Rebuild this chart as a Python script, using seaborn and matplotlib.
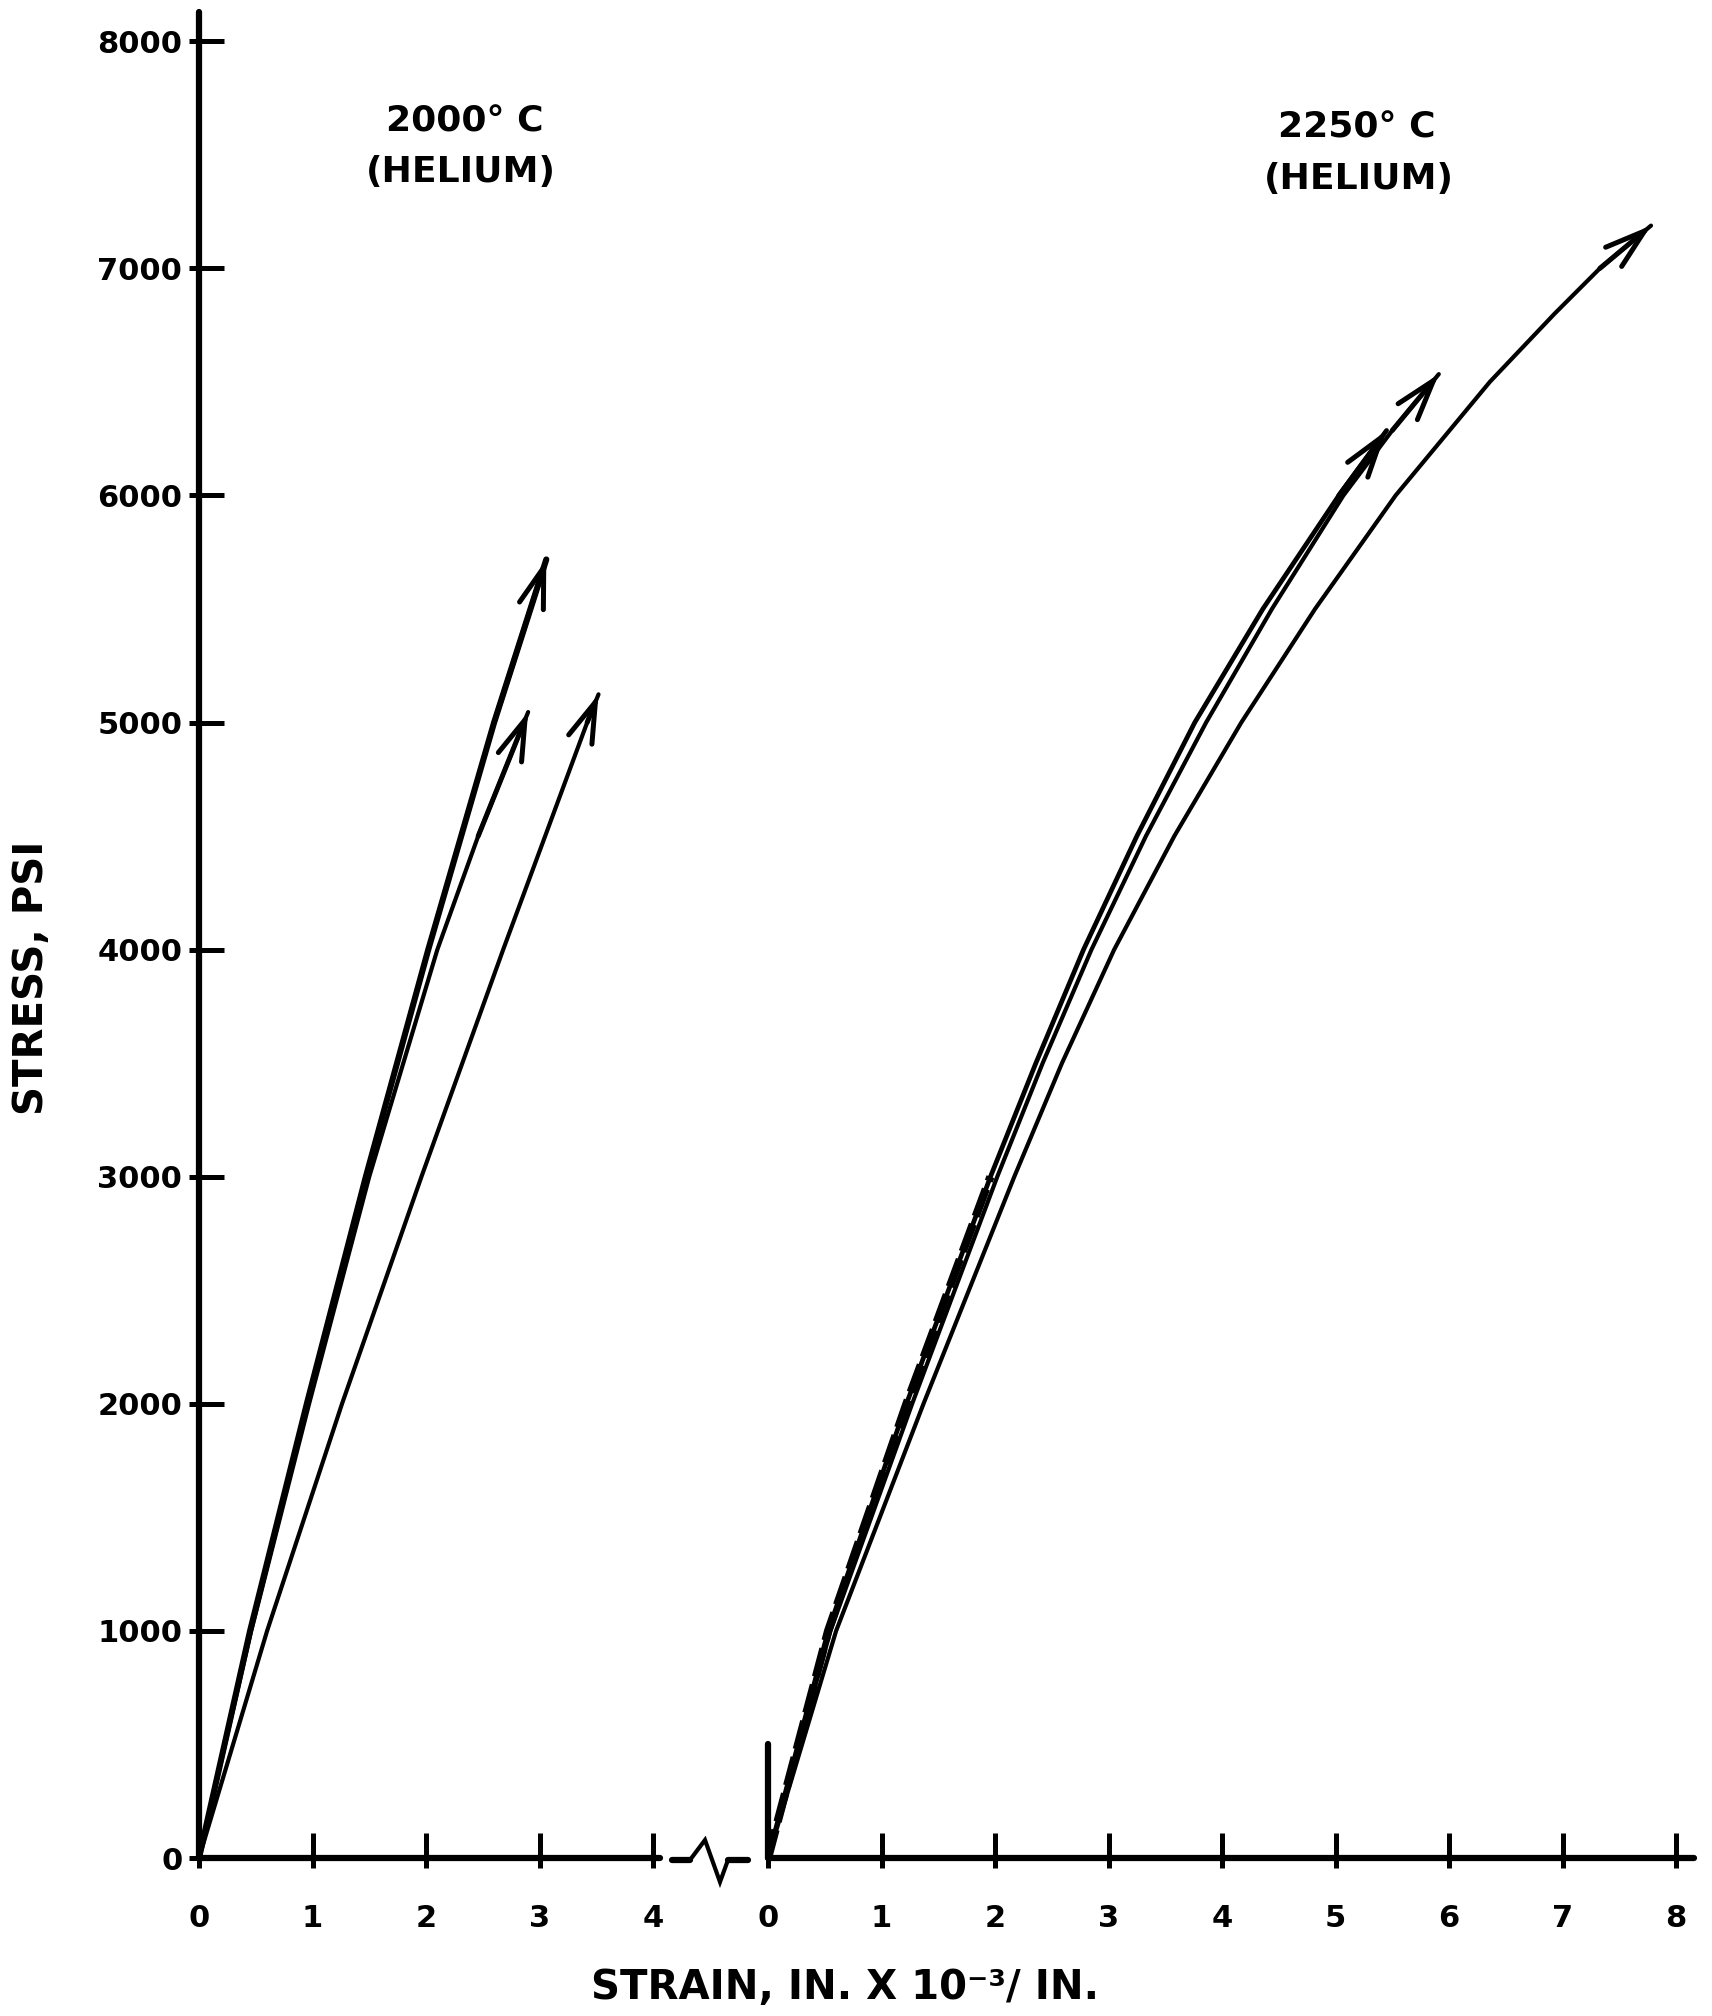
import matplotlib
matplotlib.use("Agg")
import matplotlib.pyplot as plt
import seaborn as sns
import pandas as pd
from matplotlib.lines import Line2D
from matplotlib.ticker import FixedLocator

# ---------------- data (strain in 10^-3 in/in, stress in psi) ----------------
# 2000 C (helium)
strain_2000_a = [0, 0.45, 0.95, 1.47, 2.02, 2.60, 3.06]
stress_2000_a = [0, 1000, 2000, 3000, 4000, 5000, 5718]
strain_2000_b = [0, 0.46, 0.97, 1.50, 2.10, 2.46, 2.90]
stress_2000_b = [0, 1000, 2000, 3000, 4000, 4500, 5046]
strain_2000_c = [0, 0.60, 1.26, 1.96, 2.68, 3.42, 3.52]
stress_2000_c = [0, 1000, 2000, 3000, 4000, 5000, 5124]

# 2250 C (helium)
strain_2250_a = [0, 0.53, 1.22, 1.96, 2.36, 2.78, 3.25, 3.76, 4.36, 5.03, 5.45]
stress_2250_a = [0, 1000, 2000, 3000, 3500, 4000, 4500, 5000, 5500, 6000, 6286]
strain_2250_b = [0, 0.55, 1.27, 2.02, 2.42, 2.85, 3.33, 3.86, 4.44, 5.07, 5.50, 5.91]
stress_2250_b = [0, 1000, 2000, 3000, 3500, 4000, 4500, 5000, 5500, 6000, 6286, 6534]
strain_2250_c = [0, 0.60, 1.37, 2.17, 2.59, 3.05, 3.58, 4.17, 4.82, 5.53, 6.36, 6.93, 7.33, 7.78]
stress_2250_c = [0, 1000, 2000, 3000, 3500, 4000, 4500, 5000, 5500, 6000, 6500, 6800, 7000, 7188]

left_xticks = [0, 1, 2, 3, 4]
right_xticks = [0, 1, 2, 3, 4, 5, 6, 7, 8]
yticks = [0, 1000, 2000, 3000, 4000, 5000, 6000, 7000, 8000]

title_left = ["2000° C", "(HELIUM)"]
title_right = ["2250° C", "(HELIUM)"]
ylabel = "STRESS, PSI"
xlabel = "STRAIN, IN. X 10⁻³/ IN."

# ---------------- style ----------------
sns.set_theme(style="white")
plt.rcParams["font.family"] = ["DejaVu Sans"]
plt.rcParams["font.weight"] = "bold"

W, H = 1712, 2016
fig = plt.figure(figsize=(W / 100, H / 100), dpi=100)
fig.patch.set_facecolor("white")

PX_X = 113.5      # pixels per strain unit
PX_Y = 0.2271     # pixels per psi
Y0 = 1858
YMAX = 8130
bottom = 1 - Y0 / H
height = YMAX * PX_Y / H

ax1 = fig.add_axes([199 / W, bottom, 4.1 * PX_X / W, height])
ax2 = fig.add_axes([768 / W, bottom, 8.2 * PX_X / W, height])

for ax in (ax1, ax2):
    ax.set_facecolor("white")
    ax.set_ylim(0, YMAX)
    for s in ("top", "right"):
        ax.spines[s].set_visible(False)
    for s in ("left", "bottom"):
        ax.spines[s].set_color("black")
        ax.spines[s].set_linewidth(4.5)
        ax.spines[s].set_capstyle("round")

ax1.set_xlim(0, 4.1)
ax2.set_xlim(0, 8.2)
ax1.spines["bottom"].set_bounds(0, 4.06)
ax2.spines["bottom"].set_bounds(0, 8.16)
ax2.spines["left"].set_bounds(0, 500)


def curve(ax, xs, ys, lw):
    df = pd.DataFrame({"strain": xs, "stress": ys})
    sns.lineplot(data=df, x="strain", y="stress", ax=ax, color="black",
                 linewidth=lw, sort=False, estimator=None)
    ax.annotate("", xy=(xs[-1], ys[-1]), xytext=(xs[-2], ys[-2]),
                arrowprops=dict(arrowstyle="->,head_length=1.45,head_width=0.45",
                                lw=3.6, color="black", shrinkA=0, shrinkB=0,
                                mutation_scale=20, joinstyle="miter"))


curve(ax1, strain_2000_a, stress_2000_a, 4.4)
curve(ax1, strain_2000_b, stress_2000_b, 3.0)
curve(ax1, strain_2000_c, stress_2000_c, 3.0)

curve(ax2, strain_2250_a, stress_2250_a, 3.4)
curve(ax2, strain_2250_b, stress_2250_b, 3.0)
curve(ax2, strain_2250_c, stress_2250_c, 3.0)
# heavy dashed trace near the origin of the 2250 C group
sns.lineplot(x=strain_2250_a[:4], y=stress_2250_a[:4], ax=ax2, color="black",
             linewidth=6, sort=False, estimator=None,
             linestyle=(0, (3.5, 1.0)))

# ---------------- ticks ----------------
ax1.set_xticks(left_xticks)
ax1.set_xticklabels([str(t) for t in left_xticks])
ax1.set_yticks(yticks)
ax1.set_yticklabels([str(t) for t in yticks])
ax2.set_xticks(right_xticks)
ax2.set_xticklabels([str(t) for t in right_xticks])
ax2.set_yticks([])

ax1.xaxis.set_minor_locator(FixedLocator(left_xticks))
ax1.yaxis.set_minor_locator(FixedLocator(yticks))
ax2.xaxis.set_minor_locator(FixedLocator(right_xticks))
for axis in (ax1.xaxis, ax1.yaxis, ax2.xaxis):
    axis.remove_overlapping_locs = False

for ax in (ax1, ax2):
    ax.tick_params(axis="x", which="major", direction="in", length=18, width=3.6,
                   color="black", pad=33, labelsize=22, labelcolor="black",
                   bottom=True)
    ax.tick_params(axis="x", which="minor", direction="out", length=7, width=3.6,
                   color="black", bottom=True)
ax1.tick_params(axis="y", which="major", direction="in", length=18, width=3.6,
                color="black", pad=12, labelsize=22, labelcolor="black", left=True)
ax1.tick_params(axis="y", which="minor", direction="out", length=7, width=3.6,
                color="black", left=True)
ax2.tick_params(axis="y", which="both", left=False, labelleft=False)
for ax in (ax1, ax2):
    for lab in ax.get_xticklabels() + ax.get_yticklabels():
        lab.set_fontweight("bold")
    ax.set_xlabel("")
    ax.set_ylabel("")

# ---------------- axis break symbol ----------------
bx = [672, 690, 705, 720, 728, 748]
by = [1860, 1860, 1840, 1882, 1860, 1860]
fig.add_artist(Line2D([x / W for x in bx[:2]], [1 - y / H for y in by[:2]],
                      transform=fig.transFigure, color="black", lw=4.5,
                      solid_capstyle="round"))
fig.add_artist(Line2D([x / W for x in bx[1:5]], [1 - y / H for y in by[1:5]],
                      transform=fig.transFigure, color="black", lw=3,
                      solid_joinstyle="miter"))
fig.add_artist(Line2D([x / W for x in bx[4:]], [1 - y / H for y in by[4:]],
                      transform=fig.transFigure, color="black", lw=4.5,
                      solid_capstyle="round"))

# ---------------- texts ----------------
fig.text(465 / W, 1 - 122 / H, title_left[0], ha="center", va="center",
         fontsize=26, fontweight="bold", color="black")
fig.text(461 / W, 1 - 172 / H, title_left[1], ha="center", va="center",
         fontsize=26, fontweight="bold", color="black")
fig.text(1357 / W, 1 - 128 / H, title_right[0], ha="center", va="center",
         fontsize=26, fontweight="bold", color="black")
fig.text(1359 / W, 1 - 179 / H, title_right[1], ha="center", va="center",
         fontsize=26, fontweight="bold", color="black")

fig.text(32 / W, 1 - 978 / H, ylabel, ha="center", va="center", rotation=90,
         fontsize=29, fontweight="bold", color="black")
fig.text(845 / W, 1 - 1988 / H, xlabel, ha="center", va="center",
         fontsize=29, fontweight="bold", color="black")

fig.savefig("out.png", dpi=100, facecolor="white")
